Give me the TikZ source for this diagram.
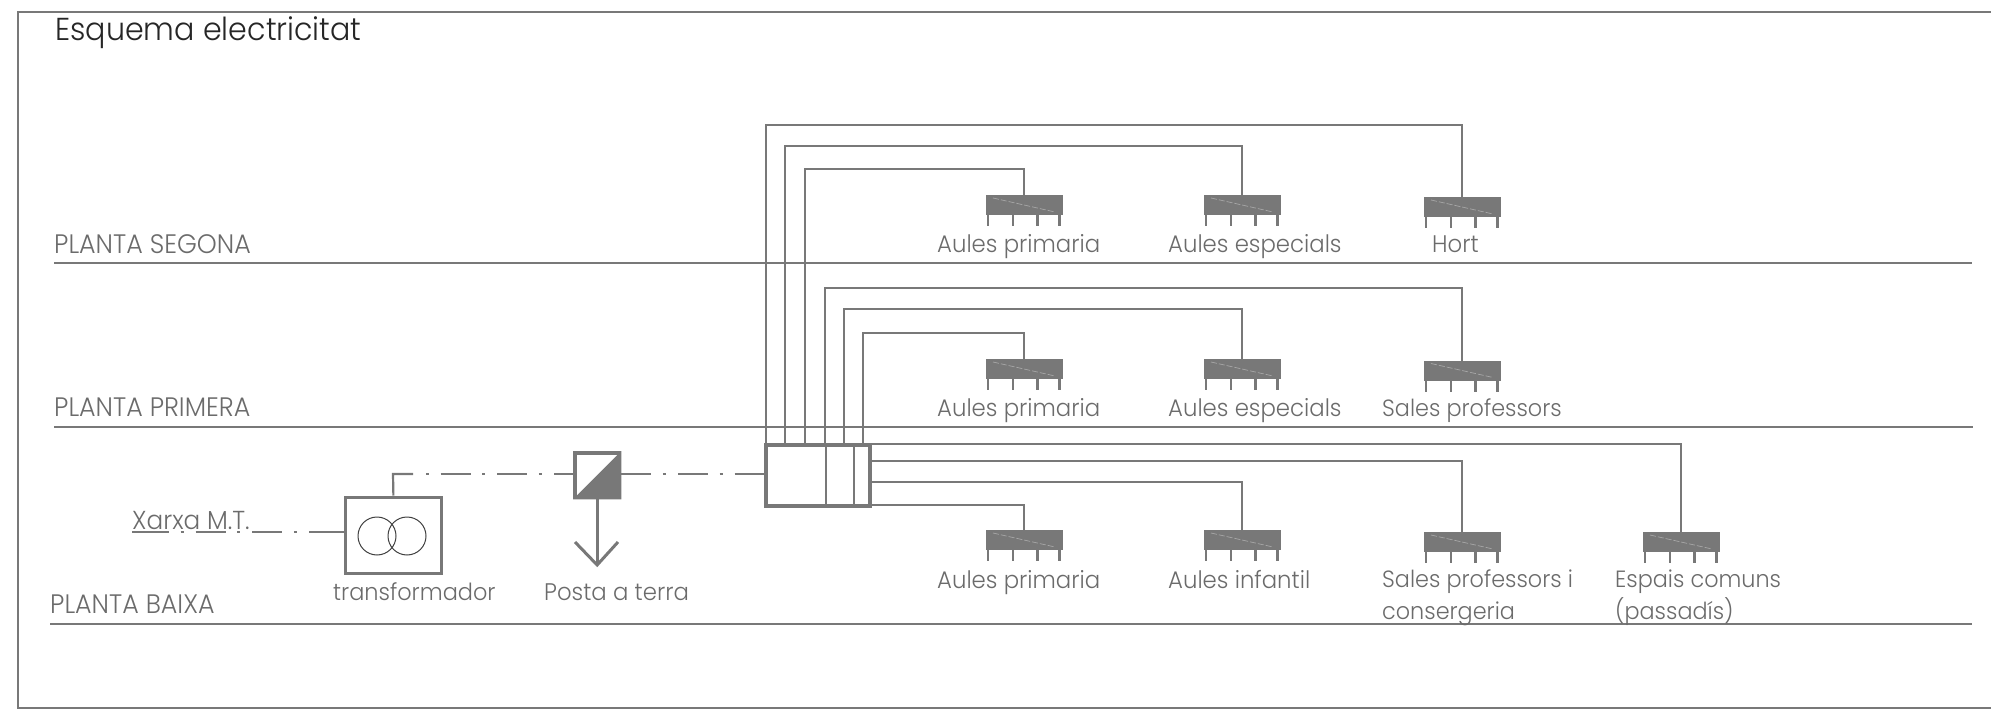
\documentclass[tikz,border=0pt]{standalone}
\usepackage{fontspec}
\setmainfont{Poppins Light}[FakeStretch=0.95]
\definecolor{ln}{gray}{0.47}
\definecolor{tx}{gray}{0.42}
\tikzset{
 lab/.style={anchor=base west,inner sep=0pt,text=tx,font=\fontsize{24}{31.5}\selectfont,align=left},
 lab2/.style={anchor=north west,inner sep=0pt,text=tx,font=\fontsize{23.5}{31.5}\selectfont,align=left},
 caplab/.style={anchor=base west,inner sep=0pt,text=tx,font=\fontsize{26.7}{30}\selectfont},
 wire/.style={draw=ln,line width=2pt},
 thick box/.style={draw=ln,line width=3.8pt,fill=white,inner sep=0pt},
 floorline/.style={draw=ln,line width=2pt},
 panelbox/.style={draw=ln,fill=ln,line width=.5pt,minimum width=76.5pt,minimum height=19pt,inner sep=0pt},
 leg/.style={draw=ln,line width=2.6pt},
 dd/.style={draw=ln,line width=2.2pt,dash pattern=on 30pt off 11.5pt on 3pt off 12.2pt},
 solidd/.style={draw=ln,line width=2.2pt},
 coil/.style={draw=black!75,line width=1pt,circle,minimum size=38pt,inner sep=0pt},
}
\newcommand{\panelat}[3]{%
 \node[panelbox,anchor=north] (#1) at (#2,#3) {};
 \draw[white!35!ln,line width=.7pt,dash pattern=on 6pt off 2pt] (#2-31,#3+3) -- (#2+31,#3+17);
 \foreach \dx in {-36,-11,13.5,35.5}{\draw[leg] (#2+\dx,#3+19) -- (#2+\dx,#3+31);}
}
\begin{document}
\begin{tikzpicture}[x=1pt,y=-1pt,line join=miter]
\useasboundingbox (0,0) rectangle (1991,711);
\coordinate (fa) at (1991,12.5);\coordinate (fb) at (18,12.5);\coordinate (fc) at (18,708);\coordinate (fd) at (1991,708);
\draw[draw=ln,line width=2pt] (fa) -- (fb) -- (fc) -- (fd);
\coordinate (s1) at (54,263);\coordinate (s2) at (1972,263);
\coordinate (p1) at (54,427);\coordinate (p2) at (1973,427);
\coordinate (b1) at (50,624);\coordinate (b2) at (1972,624);
\draw[floorline] (s1) -- (s2);
\draw[floorline] (p1) -- (p2);
\draw[floorline] (b1) -- (b2);
\node[anchor=base west,inner sep=0pt,text=black!85,font=\fontsize{31.7}{36}\selectfont] (title) at (55,41) {Esquema electricitat};
\node[caplab] (ts) at (54,254) {PLANTA SEGONA};
\node[caplab] (tp) at (54,416) {PLANTA PRIMERA};
\node[caplab] (tb) at (50,613) {PLANTA BAIXA};
% panels
\panelat{a1}{1024}{195}\panelat{a2}{1242}{195}\panelat{a3}{1462}{197}
\panelat{b1p}{1024}{359}\panelat{b2p}{1242}{359}\panelat{b3p}{1462}{360.5}
\panelat{c1}{1024}{530}\panelat{c2}{1242}{530}\panelat{c3}{1462}{532}\panelat{c4}{1681}{532}
% panel labels
\node[lab] (la1) at (937,252.5) {Aules primaria};
\node[lab] (la2) at (1168,252.5) {Aules especials};
\node[lab] (la3) at (1432,252.5) {Hort};
\node[lab] (lb1) at (937,416.5) {Aules primaria};
\node[lab] (lb2) at (1168,416.5) {Aules especials};
\node[lab2,anchor=base west] (lb3) at (1382,416.5) {Sales professors};
\node[lab] (lc1) at (937,588.5) {Aules primaria};
\node[lab] (lc2) at (1168,588.5) {Aules infantil};
\node[lab2] (lc3) at (1382,570) {Sales professors i\\consergeria};
\node[lab2] (lc4) at (1615,570) {Espais comuns\\(passadís)};
% main board
\node[thick box,minimum width=104pt,minimum height=61pt,anchor=north west] (board) at (764,443) {};
\coordinate (d1a) at (826,444);\coordinate (d1b) at (826,505);
\coordinate (d2a) at (854,444);\coordinate (d2b) at (854,505);
\draw[wire] (d1a) -- (d1b);
\draw[wire] (d2a) -- (d2b);
\foreach \n/\x in {t1/766,t2/785,t3/805,t4/825,t5/844,t6/863}{\coordinate (\n) at (\x,444);}
\foreach \n/\y in {r1/443.5,r2/461,r3/482,r4/505}{\coordinate (\n) at (871,\y);}
\coordinate (k1) at (766,125.5);\coordinate (k2) at (785,146);\coordinate (k3) at (805,169);
\coordinate (k4) at (825,288.5);\coordinate (k5) at (844,309);\coordinate (k6) at (863,333);
\draw[wire] (t1) -- (k1) -| (a3.north);
\draw[wire] (t2) -- (k2) -| (a2.north);
\draw[wire] (t3) -- (k3) -| (a1.north);
\draw[wire] (t4) -- (k4) -| (b3p.north);
\draw[wire] (t5) -- (k5) -| (b2p.north);
\draw[wire] (t6) -- (k6) -| (b1p.north);
\draw[wire] (r1) -| (c4.north);
\draw[wire] (r2) -| (c3.north);
\draw[wire] (r3) -| (c2.north);
\draw[wire] (r4) -| (c1.north);
% transformer
\node[thick box,minimum width=96pt,minimum height=76pt,anchor=north west] (trafo) at (343.5,495.5) {};
\node[lab,font=\fontsize{23.6}{30}\selectfont] (ltr) at (333,600.5) {transformador};
\node[coil] (coil1) at (377,536) {};
\node[coil] (coil2) at (407,536) {};
% ground
\node[thick box,minimum width=44.5pt,minimum height=44.5pt,anchor=north west] (gnd) at (573,451) {};
\fill[ln] (gnd.north east) -- (gnd.south east) -- (gnd.south west) -- cycle;
\node[lab] (lgnd) at (544,600.5) {Posta a terra};
\coordinate (gtip) at (gnd.south |- 0,565);
\coordinate (gl) at (575,542);\coordinate (gr) at (618,542);
\draw[draw=ln,line width=3pt] (gnd.south) -- (gtip);
\draw[draw=ln,line width=3pt,line join=miter] (gl) -- (gtip) -- (gr);
% feeders
\coordinate (h0) at (393,474);\coordinate (h1) at (413,474);\coordinate (h2) at (440.7,474);
\draw[solidd] (trafo.north) -- (h0) -- (h1);
\fill[ln] (425.5,473) rectangle (428.5,475);
\draw[dd] (h2) -- (gnd.west |- h2);
\coordinate (g1) at (gnd.east |- h2);\coordinate (g2) at (board.west |- h2);
\draw[dd] (g1) -- (g2);
\node[lab,font=\fontsize{26}{30}\selectfont] (xa) at (132,529) {Xarxa M.T.};
\coordinate (x1) at (132,532);\coordinate (x2) at (139,532);\coordinate (x3) at (339,532);
\draw[solidd] (x1) -- (x2);
\draw[solidd] (x3) -- (trafo.west |- x3);
\draw[dd] (x2) -- (x3);
\end{tikzpicture}
\end{document}
